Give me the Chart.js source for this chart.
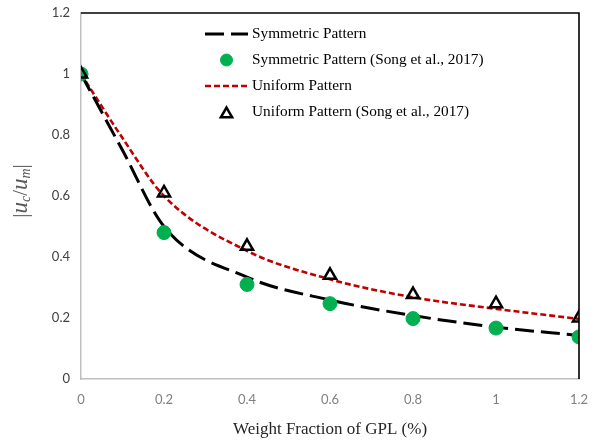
<!DOCTYPE html>
<html>
<head>
<meta charset="utf-8">
<script src="https://cdn.jsdelivr.net/npm/chart.js@4/dist/chart.umd.min.js"></script>
<style>
  html, body { margin: 0; padding: 0; background: #fff; }
  #wrap { width: 596px; height: 443px; position: relative; }
</style>
</head>
<body>
<div id="wrap"><canvas id="chart"></canvas></div>
<script>
// weight fraction of GPL (%) for the analytic curves and for the reference points
const curveX = [0, 0.1, 0.2, 0.4, 0.6, 0.8, 1.0, 1.2];
const symmetricCurve = [1.0, 0.75, 0.50, 0.334, 0.259, 0.208, 0.170, 0.143];
const uniformCurve = [1.0, 0.79, 0.60, 0.420, 0.327, 0.268, 0.230, 0.197];

const songX = [0, 0.2, 0.4, 0.6, 0.8, 1.0, 1.2];
const symmetricSong = [1.0, 0.48, 0.31, 0.247, 0.198, 0.167, 0.138];
const uniformSong = [1.0, 0.61, 0.435, 0.34, 0.277, 0.247, 0.20];

const axisTicks = [0, 0.2, 0.4, 0.6, 0.8, 1, 1.2];

const legendLabels = [
  "Symmetric Pattern",
  "Symmetric Pattern (Song et al., 2017)",
  "Uniform Pattern",
  "Uniform Pattern (Song et al., 2017)"
];

const toPoints = (xs, ys) => xs.map((x, i) => ({ x, y: ys[i] }));
const fmt = v => String(Number(v.toFixed(1)));

// legend drawn inside the plot, one entry per row
const insideLegend = {
  id: "insideLegend",
  afterDraw(chart) {
    const ctx = chart.ctx;
    const x0 = 205, x1 = 248, tx = 252;
    const rows = [34, 60, 86, 112];
    chart.data.datasets.forEach((ds, i) => {
      const y = rows[i];
      ctx.save();
      if (ds.type === "line") {
        ctx.strokeStyle = ds.borderColor;
        ctx.lineWidth = ds.borderWidth;
        ctx.setLineDash(ds.borderDash || []);
        ctx.beginPath();
        ctx.moveTo(x0, y);
        ctx.lineTo(x1, y);
        ctx.stroke();
      } else {
        ctx.fillStyle = ds.pointBackgroundColor;
        ctx.strokeStyle = ds.pointBorderColor;
        ctx.lineWidth = ds.pointBorderWidth;
        Chart.helpers.drawPoint(ctx, {
          pointStyle: ds.pointStyle,
          radius: ds.pointStyle === "circle" ? 6 : 6.5,
          rotation: 0,
          borderWidth: ds.pointBorderWidth
        }, (x0 + x1) / 2, ds.pointStyle === "triangle" ? y + 2 : y);
      }
      ctx.restore();
      ctx.save();
      ctx.font = "15.3px 'Liberation Serif', 'Times New Roman', serif";
      ctx.fillStyle = "#000";
      ctx.textBaseline = "middle";
      ctx.fillText(legendLabels[i], tx, y);
      ctx.restore();
    });
  }
};

// black frame on top and right, plus the y-axis title with subscripts
const frameAndTitle = {
  id: "frameAndTitle",
  afterDraw(chart) {
    const { ctx, chartArea: a } = chart;
    ctx.save();
    ctx.strokeStyle = "#000";
    ctx.lineWidth = 1.6;
    ctx.beginPath();
    ctx.moveTo(a.left, a.top);
    ctx.lineTo(a.right, a.top);
    ctx.lineTo(a.right, a.bottom);
    ctx.stroke();
    ctx.restore();

    const parts = [
      { t: "|", f: "21px 'Liberation Serif', serif", dy: 0 },
      { t: "u", f: "italic 23px 'Liberation Serif', serif", dy: 0 },
      { t: "c", f: "italic 14px 'Liberation Serif', serif", dy: 5 },
      { t: "/", f: "21px 'Liberation Serif', serif", dy: 0 },
      { t: "u", f: "italic 23px 'Liberation Serif', serif", dy: 0 },
      { t: "m", f: "italic 14px 'Liberation Serif', serif", dy: 5 },
      { t: "|", f: "21px 'Liberation Serif', serif", dy: 0 }
    ];
    ctx.save();
    ctx.fillStyle = "#595959";
    ctx.textBaseline = "middle";
    let total = 0;
    parts.forEach(p => { ctx.font = p.f; p.w = ctx.measureText(p.t).width; total += p.w; });
    ctx.translate(21, 191);
    ctx.rotate(-Math.PI / 2);
    let x = -total / 2;
    parts.forEach(p => {
      ctx.font = p.f;
      ctx.fillText(p.t, x, p.dy);
      x += p.w;
    });
    ctx.restore();
  }
};

new Chart(document.getElementById("chart"), {
  type: "line",
  data: {
    datasets: [
      {
        type: "line",
        label: legendLabels[0],
        data: toPoints(curveX, symmetricCurve),
        borderColor: "#000",
        borderWidth: 3,
        borderDash: [19, 7],
        pointRadius: 0,
        cubicInterpolationMode: "monotone",
        order: 3
      },
      {
        type: "scatter",
        label: legendLabels[1],
        data: toPoints(songX, symmetricSong),
        showLine: false,
        pointStyle: "circle",
        pointRadius: 7,
        pointBackgroundColor: "#00b050",
        pointBorderColor: "#00b050",
        pointBorderWidth: 1,
        order: 2
      },
      {
        type: "line",
        label: legendLabels[2],
        data: toPoints(curveX, uniformCurve),
        borderColor: "#c00000",
        borderWidth: 2.6,
        borderDash: [6, 3],
        pointRadius: 0,
        cubicInterpolationMode: "monotone",
        order: 4
      },
      {
        type: "scatter",
        label: legendLabels[3],
        data: toPoints(songX, uniformSong),
        showLine: false,
        pointStyle: "triangle",
        pointRadius: 7,
        pointBackgroundColor: "rgba(255,255,255,0)",
        pointBorderColor: "#000",
        pointBorderWidth: 2.5,
        order: 1
      }
    ]
  },
  options: {
    responsive: true,
    maintainAspectRatio: false,
    animation: false,
    layout: { padding: { top: 13, right: 17, left: 0, bottom: 0 } },
    plugins: {
      legend: { display: false },
      tooltip: { enabled: false }
    },
    scales: {
      x: {
        type: "linear",
        min: 0,
        max: 1.2,
        afterBuildTicks: s => { s.ticks = axisTicks.map(v => ({ value: v })); },
        afterFit: s => { s.height = 64; s.paddingLeft = 0; s.paddingRight = 0; },
        grid: { display: false, drawTicks: false },
        border: { display: true, color: "#bfbfbf", width: 1.5 },
        ticks: {
          padding: 13,
          color: "#808080",
          font: { family: "Lato, 'Open Sans', sans-serif", size: 13 },
          callback: v => fmt(v)
        },
        title: {
          display: true,
          text: "Weight Fraction of GPL (%)",
          color: "#262626",
          font: { family: "'Liberation Serif', 'Times New Roman', serif", size: 17 },
          padding: { top: 4, bottom: 3 }
        }
      },
      y: {
        type: "linear",
        min: 0,
        max: 1.2,
        afterBuildTicks: s => { s.ticks = axisTicks.map(v => ({ value: v })); },
        afterFit: s => { s.width = 81; s.paddingTop = 0; s.paddingBottom = 0; },
        grid: { display: false, drawTicks: false },
        border: { display: true, color: "#bfbfbf", width: 1.5 },
        ticks: {
          padding: 11,
          color: "#404040",
          font: { family: "Lato, 'Open Sans', sans-serif", size: 13 },
          callback: v => fmt(v)
        }
      }
    }
  },
  plugins: [frameAndTitle, insideLegend]
});
</script>
</body>
</html>
